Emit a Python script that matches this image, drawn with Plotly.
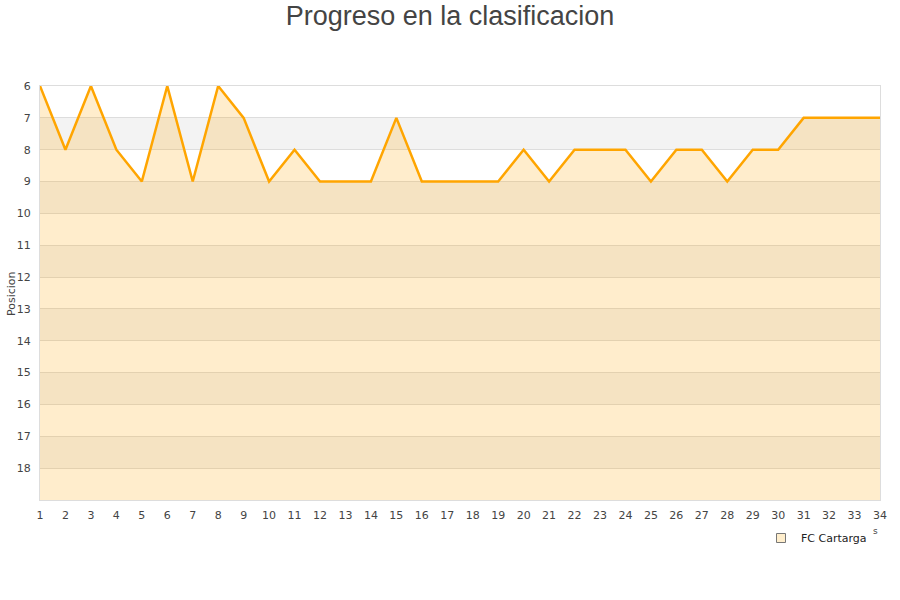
import plotly.graph_objects as go

jornadas = list(range(1, 35))
posiciones = [6, 8, 6, 8, 9, 6, 9, 6, 7, 9, 8, 9, 9, 9, 7, 9, 9, 9, 9, 8,
              9, 8, 8, 8, 9, 8, 8, 9, 8, 8, 7, 7, 7, 7]
equipo = "FC Cartarga"
y_ticks = list(range(6, 19))
y_bottom = 19
band_starts = [7, 9, 11, 13, 15, 17]

fig = go.Figure()

# baseline for fill
fig.add_trace(go.Scatter(x=jornadas, y=[y_bottom] * len(jornadas), mode="lines",
                         line=dict(width=0), showlegend=False, hoverinfo="skip"))
fig.add_trace(go.Scatter(x=jornadas, y=posiciones, mode="lines", name=equipo,
                         line=dict(color="#ffa500", width=2.5),
                         fill="tonexty", fillcolor="rgba(255,165,0,0.2)",
                         showlegend=False))
# legend entry
fig.add_trace(go.Scatter(x=[None], y=[None], mode="markers", name=equipo,
                         marker=dict(symbol="square", size=9, color="#ffeecc",
                                     line=dict(color="#777", width=1))))

shapes = []
for b in band_starts:
    shapes.append(dict(type="rect", xref="paper", yref="y", x0=0, x1=1, y0=b, y1=b + 1,
                       fillcolor="#f3f3f3", line=dict(width=0), layer="below"))

W, H = 900, 600
L, R, T, B = 40, 20, 86, 100
pw, ph = W - L - R, H - T - B

fig.update_layout(
    width=W, height=H,
    margin=dict(l=L, r=R, t=T, b=B, autoexpand=False),
    paper_bgcolor="white", plot_bgcolor="white",
    title=dict(text="Progreso en la clasificacion", x=0.5, xanchor="center",
               y=1 - 16 / H, yanchor="middle", automargin=False,
               font=dict(family="Liberation Sans, Arial", size=27, color="#444")),
    font=dict(family="DejaVu Sans, Verdana", size=11, color="#444"),
    shapes=shapes,
    showlegend=True,
    legend=dict(x=(872 - L) / pw, xanchor="right", y=(500 - 538) / ph, yanchor="middle",
                itemwidth=30,
                font=dict(size=11, color="#222"), bgcolor="rgba(0,0,0,0)"),
    xaxis=dict(range=[1, 34], tickmode="array", tickvals=jornadas, automargin=False,
               showgrid=False, zeroline=False, showline=True, mirror=True,
               linecolor="#dddddd", linewidth=1, ticks="outside", ticklen=5,
               tickcolor="rgba(0,0,0,0)",
               tickfont=dict(size=11, color="#444")),
    yaxis=dict(range=[y_bottom, 6], tickmode="array", tickvals=y_ticks, automargin=False,
               showgrid=True, gridcolor="#dddddd", gridwidth=1, zeroline=False,
               showline=True, mirror=True, linecolor="#dddddd", linewidth=1,
               ticks="outside", ticklen=6, tickcolor="rgba(0,0,0,0)",
               tickfont=dict(size=11, color="#444")),
    annotations=[
        dict(text="Posicion", xref="paper", yref="paper", x=(11 - L) / pw,
             y=(500 - 293) / ph, showarrow=False, textangle=-90,
             xanchor="center", yanchor="middle",
             font=dict(size=11, color="#444")),
        dict(text="s", xref="paper", yref="paper", x=(875 - L) / pw,
             y=(500 - 531) / ph, showarrow=False, xanchor="center", yanchor="middle",
             font=dict(size=9, color="#444")),
    ],
)

fig.write_html("out.html", config={"displayModeBar": False},
               post_script="document.body.style.margin='0';")
